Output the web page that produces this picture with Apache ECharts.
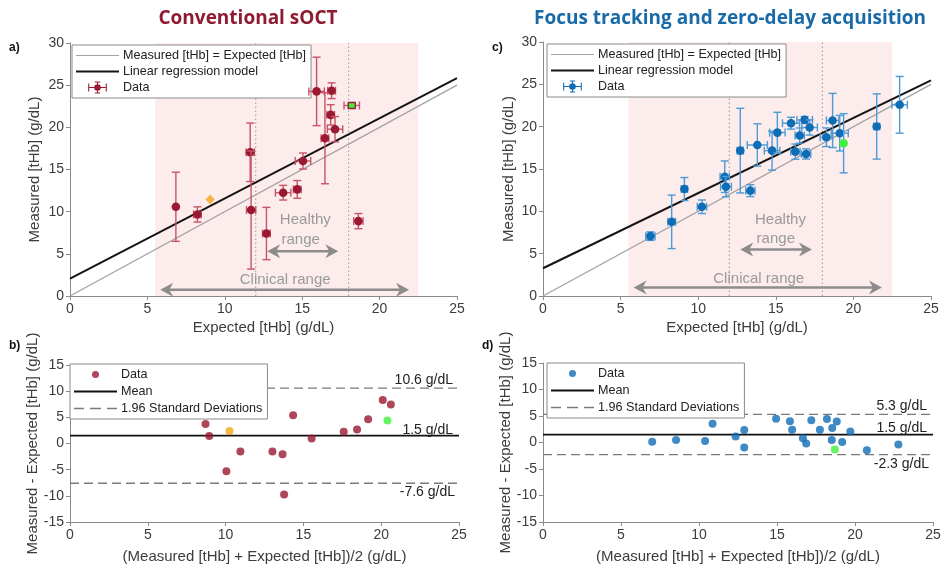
<!DOCTYPE html>
<html>
<head>
<meta charset="utf-8">
<script src="https://cdn.jsdelivr.net/npm/echarts@6/dist/echarts.min.js"></script>
<style>
  html, body { margin: 0; padding: 0; background: #fff; }
  #wrap { position: relative; width: 947px; height: 565px; }
  .layer { position: absolute; left: 0; top: 0; width: 947px; height: 565px; }
</style>
</head>
<body>
<div id="wrap">
  <div class="layer" id="panelA"></div>
  <div class="layer" id="panelB"></div>
  <div class="layer" id="panelC"></div>
  <div class="layer" id="panelD"></div>
</div>
<script>
// ---------- a) Conventional sOCT: expected vs measured [tHb] (g/dL) ----------
const convExpected = [6.84, 8.23, 11.64, 11.70, 12.69, 13.77, 14.68, 15.05, 15.93, 16.90, 16.84, 17.12, 16.47, 18.63];
const convMeasured = [10.58, 9.67, 17.04, 10.19, 7.41, 12.25, 12.64, 16.01, 24.26, 24.34, 21.48, 19.78, 18.71, 8.88];
const convExpErr   = [0, 0.25, 0.27, 0.3, 0.25, 0.5, 0.25, 0.5, 0.5, 0.25, 0.25, 0.5, 0.25, 0.3];
const convMeasErr  = [4.1, 0.9, 3.47, 7.0, 3.1, 0.87, 1.05, 0.95, 4.06, 0.93, 1.2, 1.5, 5.4, 0.9];
const convGoldPoint  = [9.05, 11.45];
const convGreenPoint = [18.2, 22.59, 0.5, 0.2];
const convFit = [[0, 2.06], [25, 25.84]];

// ---------- b) Conventional sOCT: Bland-Altman ----------
const convBaMean = [8.71, 8.95, 14.34, 10.95, 10.05, 13.01, 13.66, 15.53, 20.10, 20.62, 19.16, 18.45, 17.59, 13.76];
const convBaDiff = [3.74, 1.44, 5.40, -1.51, -5.28, -1.52, -2.04, 0.96, 8.33, 7.44, 4.64, 2.66, 2.24, -9.75];
const convBaGold  = [10.25, 2.40];
const convBaGreen = [20.40, 4.39];
const convLimits  = [10.6, 1.5, -7.6];   // upper limit, mean, lower limit

// ---------- c) Focus tracking and zero-delay acquisition ----------
const focusExpected = [6.92, 8.29, 9.11, 10.24, 11.71, 11.79, 12.71, 13.36, 13.81, 14.76, 15.10, 15.98, 16.26, 16.54, 16.86, 16.95, 17.18, 18.26, 18.66, 19.12, 21.50, 22.98];
const focusMeasured = [7.07, 8.76, 12.63, 10.54, 14.09, 12.91, 17.17, 12.44, 17.84, 17.17, 19.30, 20.41, 17.05, 18.95, 20.80, 16.78, 19.90, 18.75, 20.73, 19.23, 20.02, 22.58];
const focusExpErr   = [0.3, 0.25, 0.2, 0.3, 0.3, 0.35, 0.2, 0.3, 0.65, 0.5, 0.5, 0.55, 0.3, 0.3, 0.5, 0.3, 0.5, 0.4, 0.4, 0.55, 0.2, 0.5];
const focusMeasErr  = [0.5, 3.16, 1.36, 0.8, 1.86, 1.2, 5.0, 0.7, 2.5, 2.3, 2.4, 0.7, 0.9, 0.9, 0.4, 0.6, 0.9, 1.1, 3.2, 2.1, 3.85, 3.35];
const focusGreenPoint = [19.37, 18.04, 0, 3.5];
const focusFit = [[0, 3.28], [25, 25.46]];

// ---------- d) Focus tracking: Bland-Altman ----------
const focusBaMean = [7.00, 8.53, 10.87, 10.39, 12.90, 12.35, 14.94, 12.90, 15.83, 15.97, 17.20, 18.20, 16.66, 17.75, 18.83, 16.87, 18.54, 18.51, 19.70, 19.18, 20.76, 22.78];
const focusBaDiff = [0.15, 0.47, 3.52, 0.30, 2.38, 1.12, 4.46, -0.92, 4.03, 2.41, 4.20, 4.43, 0.79, 2.41, 3.94, -0.17, 2.72, 0.49, 2.07, 0.11, -1.48, -0.40];
const focusBaGreen = [18.71, -1.33];
const focusLimits  = [5.3, 1.5, -2.3];

// ---------- shared ranges ----------
const clinicalRange = [5.5, 22.5];
const healthyRange  = [12, 18];
const identityLine  = [[0, 0], [25, 25]];

// ---------- styling ----------
const FONT = '"Liberation Sans", Arial, sans-serif';
const AXIS_GREY = '#8a8a8a';
const TICK_TEXT = '#3c3c3c';
const RED = '#9a1832', RED_BAR = '#c65468';
const BLUE = '#0f6db6', BLUE_BAR = '#4c9ad6';
const NOTE_GREY = '#8c8c8c';
// legend glyphs
const DATA_ICON  = 'path://M0,4h1.6v12h-1.6zM26.4,4h1.6v12h-1.6zM0,9.2h28v1.6h-28zM13.2,1h1.6v18h-1.6zM10,1h8v1.6h-8zM10,17.4h8v1.6h-8zM9,10a5,5 0 1,1 10,0a5,5 0 1,1 -10,0z';
const THIN_LINE  = 'path://M0,0h43v1.2h-43z';
const THICK_LINE = 'path://M0,0h43v2h-43z';
const DASH_LINE  = 'path://M0,0h10v1.3h-10zM16,0h11v1.3h-11zM33,0h10v1.3h-10z';

function valueAxis(min, max, name, nameGap) {
  return {
    type: 'value', min: min, max: max, interval: 5, name: name,
    nameLocation: 'middle', nameGap: nameGap,
    nameTextStyle: { fontFamily: FONT, fontSize: 15, color: TICK_TEXT },
    axisLine: { show: true, onZero: false, lineStyle: { color: AXIS_GREY, width: 1 } },
    axisTick: { show: true, length: 4, lineStyle: { color: AXIS_GREY } },
    axisLabel: { fontFamily: FONT, fontSize: 14, color: TICK_TEXT, margin: 6 },
    splitLine: { show: false }
  };
}

function legendBox(left, top, items, iconH, gap) {
  return {
    orient: 'vertical', left: left, top: top, data: items,
    itemWidth: 43, itemHeight: iconH, itemGap: gap,
    selectedMode: false,
    padding: [4, 5, 4, 4],
    backgroundColor: '#fff', borderColor: '#8a8a8a', borderWidth: 1, borderRadius: 0,
    textStyle: { fontFamily: FONT, fontSize: 12.6, color: '#222', padding: [0, 0, 0, -1] }
  };
}

// error bars with a marker on top, in data coordinates
function errorBarRenderer(barColor, fill, stroke, shape) {
  return function (params, api) {
    const x = api.value(0), y = api.value(1), ex = api.value(2), ey = api.value(3);
    const c = api.coord([x, y]);
    const bar = { stroke: barColor, lineWidth: 1.4 };
    const cap = 4;
    const kids = [];
    if (ey > 0) {
      const t = api.coord([x, y + ey])[1], b = api.coord([x, y - ey])[1];
      kids.push({ type: 'line', shape: { x1: c[0], y1: t, x2: c[0], y2: b }, style: bar });
      kids.push({ type: 'line', shape: { x1: c[0] - cap, y1: t, x2: c[0] + cap, y2: t }, style: bar });
      kids.push({ type: 'line', shape: { x1: c[0] - cap, y1: b, x2: c[0] + cap, y2: b }, style: bar });
    }
    if (ex > 0) {
      const l = api.coord([x - ex, y])[0], r = api.coord([x + ex, y])[0];
      kids.push({ type: 'line', shape: { x1: l, y1: c[1], x2: r, y2: c[1] }, style: bar });
      kids.push({ type: 'line', shape: { x1: l, y1: c[1] - cap, x2: l, y2: c[1] + cap }, style: bar });
      kids.push({ type: 'line', shape: { x1: r, y1: c[1] - cap, x2: r, y2: c[1] + cap }, style: bar });
    }
    const mStyle = { fill: fill };
    if (stroke) { mStyle.stroke = stroke; mStyle.lineWidth = 1.3; }
    if (shape === 'rect') {
      kids.push({ type: 'rect', shape: { x: c[0] - 3.5, y: c[1] - 3, width: 7, height: 6 }, style: mStyle });
    } else {
      kids.push({ type: 'circle', shape: { cx: c[0], cy: c[1], r: 4.3 }, style: mStyle });
    }
    return { type: 'group', children: kids };
  };
}

// clinical-range shading with dotted healthy-range bounds
function rangeRenderer(yMin, yMax) {
  return function (params, api) {
    const lo = api.value(0), hi = api.value(1), h0 = api.value(2), h1 = api.value(3);
    const p0 = api.coord([lo, yMax]), p1 = api.coord([hi, yMin]);
    const dot = { stroke: '#9a9a9a', lineWidth: 1, lineDash: [1.5, 2.5] };
    const a = api.coord([h0, yMin]), b = api.coord([h0, yMax]);
    const c = api.coord([h1, yMin]), d = api.coord([h1, yMax]);
    return {
      type: 'group', children: [
        { type: 'rect', shape: { x: p0[0], y: p0[1], width: p1[0] - p0[0], height: p1[1] - p0[1] }, style: { fill: '#fdecec' } },
        { type: 'line', shape: { x1: a[0], y1: a[1], x2: b[0], y2: b[1] }, style: dot },
        { type: 'line', shape: { x1: c[0], y1: c[1], x2: d[0], y2: d[1] }, style: dot }
      ]
    };
  };
}

// double-headed range arrows
function arrowRenderer(params, api) {
  const x0 = api.value(0), x1 = api.value(1), y = api.value(2);
  const a = api.coord([x0, y]), b = api.coord([x1, y]);
  const L = 13, H = 7, N = 4;
  const col = NOTE_GREY;
  return {
    type: 'group', children: [
      { type: 'line', shape: { x1: a[0] + 4, y1: a[1], x2: b[0] - 4, y2: b[1] }, style: { stroke: col, lineWidth: 2.6 } },
      { type: 'polygon', shape: { points: [[a[0], a[1]], [a[0] + L, a[1] - H], [a[0] + L - N, a[1]], [a[0] + L, a[1] + H]] }, style: { fill: col } },
      { type: 'polygon', shape: { points: [[b[0], b[1]], [b[0] - L, b[1] - H], [b[0] - L + N, b[1]], [b[0] - L, b[1] + H]] }, style: { fill: col } }
    ]
  };
}

function noteRenderer(notes, size, color, align, vAlign) {
  return function (params, api) {
    const n = notes[params.dataIndex];
    const p = api.coord([n[0], n[1]]);
    return {
      type: 'text', x: p[0] + (n[3] || 0), y: p[1] + (n[4] || 0),
      style: {
        text: n[2], fill: color, font: size + 'px ' + FONT,
        align: align, verticalAlign: vAlign
      }
    };
  };
}

function scatterOption(p) {
  const errData = p.expected.map((x, i) => [x, p.measured[i], p.expErr[i], p.measErr[i]]);
  const series = [
    { type: 'custom', name: 'range', z: 1, silent: true, renderItem: rangeRenderer(0, 30),
      data: [[clinicalRange[0], clinicalRange[1], healthyRange[0], healthyRange[1]]], encode: { x: 0, y: 2 } },
    { type: 'line', name: 'Measured [tHb] = Expected [tHb]', z: 2, data: identityLine, symbol: 'none',
      lineStyle: { color: '#a3a3a3', width: 1.3 }, itemStyle: { color: '#a3a3a3' } },
    { type: 'line', name: 'Linear regression model', z: 3, data: p.fit, symbol: 'none',
      lineStyle: { color: '#151515', width: 2 }, itemStyle: { color: '#151515' } },
    { type: 'custom', name: 'arrows', z: 3, silent: true, renderItem: arrowRenderer,
      data: p.arrows, encode: { x: 0, y: 2 } },
    { type: 'custom', name: 'notes', z: 3, silent: true, renderItem: noteRenderer(p.notes, 15, '#9a9a9a', 'center', 'middle'),
      data: p.notes.map(n => [n[0], n[1]]), encode: { x: 0, y: 1 } },
    { type: 'custom', name: 'Data', z: 5, renderItem: errorBarRenderer(p.barColor, p.color, null, 'circle'),
      data: errData, encode: { x: 0, y: 1 }, itemStyle: { color: p.color } },
    { type: 'custom', name: 'highlight', z: 6, renderItem: errorBarRenderer(p.barColor, '#3ef03e', p.greenStroke, p.greenShape),
      data: [p.green], encode: { x: 0, y: 1 } }
  ];
  if (p.gold) {
    series.push({ type: 'scatter', name: 'gold', z: 6, symbol: 'diamond', symbolSize: [9, 10],
      data: [p.gold], itemStyle: { color: '#f2a516' } });
  }
  return {
    animation: false,
    grid: p.grid,
    xAxis: valueAxis(0, 25, 'Expected [tHb] (g/dL)', 24),
    yAxis: valueAxis(0, 30, 'Measured [tHb] (g/dL)', p.yNameGap),
    legend: legendBox(p.legendPos[0], p.legendPos[1], [
      { name: 'Measured [tHb] = Expected [tHb]', icon: THIN_LINE },
      { name: 'Linear regression model', icon: THICK_LINE },
      { name: 'Data', icon: DATA_ICON }
    ], 12, 3),
    series: series
  };
}

function blandOption(p) {
  const pts = p.mean.map((m, i) => [m, p.diff[i]]);
  const lim = p.limits;
  const labels = [
    [25, lim[0], lim[0].toFixed(1) + ' g/dL', -6, -1],
    [25, lim[1], lim[1].toFixed(1) + ' g/dL', -6, 1],
    [25, lim[2], lim[2].toFixed(1) + ' g/dL', -4, 2]
  ];
  const dash = { color: '#7a7a7a', width: 1.3, type: [9, 5] };
  const series = [
    { type: 'line', name: 'Mean', z: 2, data: [[0, lim[1]], [25, lim[1]]], symbol: 'none',
      lineStyle: { color: '#111', width: 1.7 }, itemStyle: { color: '#111' } },
    { type: 'line', name: '1.96 Standard Deviations', z: 2, data: [[0, lim[0]], [25, lim[0]]], symbol: 'none',
      lineStyle: dash, itemStyle: { color: '#7a7a7a' } },
    { type: 'line', name: '1.96 Standard Deviations', z: 2, data: [[0, lim[2]], [25, lim[2]]], symbol: 'none',
      lineStyle: dash, itemStyle: { color: '#7a7a7a' } },
    { type: 'custom', name: 'limitAbove', z: 3, silent: true,
      renderItem: noteRenderer([labels[0], labels[1]], 14, '#222', 'right', 'bottom'),
      data: [[labels[0][0], labels[0][1]], [labels[1][0], labels[1][1]]], encode: { x: 0, y: 1 } },
    { type: 'custom', name: 'limitBelow', z: 3, silent: true,
      renderItem: noteRenderer([labels[2]], 14, '#222', 'right', 'top'),
      data: [[labels[2][0], labels[2][1]]], encode: { x: 0, y: 1 } },
    { type: 'scatter', name: 'Data', z: 5, symbolSize: 8, data: pts, itemStyle: { color: p.color } }
  ];
  p.highlights.forEach((h, i) => {
    series.push({ type: 'scatter', name: 'hl' + i, z: 6, symbolSize: 8, data: [[h[0], h[1]]], itemStyle: { color: h[2] } });
  });
  return {
    animation: false,
    grid: p.grid,
    xAxis: valueAxis(0, 25, '(Measured [tHb] + Expected [tHb])/2 (g/dL)', 27),
    yAxis: valueAxis(-15, 15, 'Measured - Expected [tHb] (g/dL)', 25),
    legend: legendBox(p.legendPos[0], p.legendPos[1], [
      { name: 'Data', icon: 'circle' },
      { name: 'Mean', icon: THICK_LINE },
      { name: '1.96 Standard Deviations', icon: DASH_LINE }
    ], 7, 4),
    series: series
  };
}

const titleFont = 'bold 19px "Open Sans", "Liberation Sans", sans-serif';
const panelFont = 'bold 12px ' + FONT;

const chartA = echarts.init(document.getElementById('panelA'));
const optA = scatterOption({
  grid: { left: 70, top: 43, width: 387, height: 253 },
  expected: convExpected, measured: convMeasured, expErr: convExpErr, measErr: convMeasErr,
  green: convGreenPoint, greenShape: 'rect', greenStroke: RED, gold: convGoldPoint,
  fit: convFit, color: RED, barColor: RED_BAR, yNameGap: 28, legendPos: [72, 45],
  arrows: [[12.74, 17.33, 5.3], [5.83, 21.9, 0.75]],
  notes: [[15.2, 9.0, 'Healthy'], [14.9, 6.7, 'range'], [13.9, 1.9, 'Clinical range']]
});
optA.graphic = [
  { type: 'text', x: 248, y: 19, style: { text: 'Conventional sOCT', fill: '#8e1b31', font: titleFont, align: 'center', verticalAlign: 'middle' } },
  { type: 'text', x: 730, y: 19, style: { text: 'Focus tracking and zero-delay acquisition', fill: '#1a6aa8', font: titleFont, align: 'center', verticalAlign: 'middle' } },
  { type: 'text', x: 9, y: 48, style: { text: 'a)', fill: '#111', font: panelFont, verticalAlign: 'middle' } },
  { type: 'text', x: 492, y: 48, style: { text: 'c)', fill: '#111', font: panelFont, verticalAlign: 'middle' } },
  { type: 'text', x: 9, y: 346, style: { text: 'b)', fill: '#111', font: panelFont, verticalAlign: 'middle' } },
  { type: 'text', x: 482, y: 346, style: { text: 'd)', fill: '#111', font: panelFont, verticalAlign: 'middle' } }
];
chartA.setOption(optA);

const chartC = echarts.init(document.getElementById('panelC'));
chartC.setOption(scatterOption({
  grid: { left: 543, top: 42, width: 388, height: 254 },
  expected: focusExpected, measured: focusMeasured, expErr: focusExpErr, measErr: focusMeasErr,
  green: focusGreenPoint, greenShape: 'circle', greenStroke: null, gold: null,
  fit: focusFit, color: BLUE, barColor: BLUE_BAR, yNameGap: 27, legendPos: [547, 44],
  arrows: [[12.71, 17.33, 5.5], [5.84, 21.84, 1.0]],
  notes: [[15.3, 9.0, 'Healthy'], [15.0, 6.7, 'range'], [13.9, 2.05, 'Clinical range']]
}));

const chartB = echarts.init(document.getElementById('panelB'));
chartB.setOption(blandOption({
  grid: { left: 70, top: 365, width: 389, height: 159 },
  mean: convBaMean, diff: convBaDiff, limits: convLimits, color: RED,
  highlights: [[convBaGold[0], convBaGold[1], '#f2a516'], [convBaGreen[0], convBaGreen[1], '#3ef03e']],
  legendPos: [70, 364]
}));

const chartD = echarts.init(document.getElementById('panelD'));
chartD.setOption(blandOption({
  grid: { left: 543, top: 363, width: 390, height: 160 },
  mean: focusBaMean, diff: focusBaDiff, limits: focusLimits, color: BLUE,
  highlights: [[focusBaGreen[0], focusBaGreen[1], '#3ef03e']],
  legendPos: [547, 363]
}));
</script>
</body>
</html>
